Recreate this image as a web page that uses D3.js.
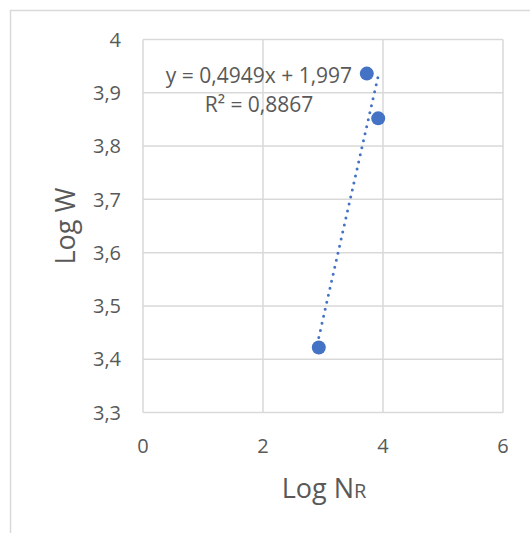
<!DOCTYPE html>
<html>
<head>
<meta charset="utf-8">
<script src="https://cdn.jsdelivr.net/npm/d3@7"></script>
<style>
  body { margin: 0; background: #fff; }
  text { font-family: "Open Sans", sans-serif; fill: #595959; }
  .grid line { stroke: #d9d9d9; stroke-width: 1.5; }
</style>
</head>
<body>
<div id="chart"></div>
<script>
const width = 530
const height = 533

// data
const logNR = [3.73, 3.92, 2.93]
const logW = [3.936, 3.852, 3.422]
const xTicks = [0, 2, 4, 6]
const yTicks = [3.3, 3.4, 3.5, 3.6, 3.7, 3.8, 3.9, 4]
const trendLabel = ['y = 0,4949x + 1,997', 'R² = 0,8867']

const points = logNR.map((x, i) => ({ x: x, y: logW[i] }))

const svg = d3.select('#chart')
  .append('svg')
  .attr('width', width)
  .attr('height', height)

// chart frame
svg.append('rect')
  .attr('x', 10.5)
  .attr('y', 10.5)
  .attr('width', width)
  .attr('height', height)
  .attr('fill', 'none')
  .attr('stroke', '#d9d9d9')
  .attr('stroke-width', 1.5)

const x = d3.scaleLinear().domain([0, 6]).range([143, 503])
const y = d3.scaleLinear().domain([3.3, 4]).range([412.5, 39.5])

const fmt = d => String(d).replace('.', ',')

// gridlines
const grid = svg.append('g').attr('class', 'grid')
grid.selectAll('.hline')
  .data(yTicks)
  .enter()
    .append('line')
    .attr('x1', x(0))
    .attr('x2', x(6))
    .attr('y1', d => y(d))
    .attr('y2', d => y(d))
grid.selectAll('.vline')
  .data(xTicks)
  .enter()
    .append('line')
    .attr('x1', d => x(d))
    .attr('x2', d => x(d))
    .attr('y1', y(3.3))
    .attr('y2', y(4))

// tick labels
svg.selectAll('.ytick')
  .data(yTicks)
  .enter()
    .append('text')
    .attr('class', 'ytick')
    .attr('x', 121)
    .attr('y', d => y(d))
    .attr('dy', '0.36em')
    .attr('text-anchor', 'end')
    .style('font-size', '20px')
    .text(fmt)
svg.selectAll('.xtick')
  .data(xTicks)
  .enter()
    .append('text')
    .attr('class', 'xtick')
    .attr('x', d => x(d))
    .attr('y', 453)
    .attr('text-anchor', 'middle')
    .style('font-size', '20px')
    .text(fmt)

// axis titles
const xTitle = svg.append('text')
  .attr('x', 324)
  .attr('y', 498)
  .attr('text-anchor', 'middle')
  .style('font-size', '27px')
xTitle.append('tspan').text('Log N')
xTitle.append('tspan').style('font-size', '20px').text('R')

svg.append('text')
  .attr('transform', 'translate(75,226) rotate(-90)')
  .attr('text-anchor', 'middle')
  .style('font-size', '27px')
  .text('Log W')

// linear trendline (least squares over the points)
const mx = d3.mean(points, d => d.x)
const my = d3.mean(points, d => d.y)
const slope = d3.sum(points, d => (d.x - mx) * (d.y - my)) / d3.sum(points, d => (d.x - mx) ** 2)
const icpt = my - slope * mx
const xr = d3.extent(logNR)
svg.append('line')
  .attr('x1', x(xr[0]))
  .attr('y1', y(slope * xr[0] + icpt))
  .attr('x2', x(xr[1]))
  .attr('y2', y(slope * xr[1] + icpt))
  .attr('stroke', '#4472c4')
  .attr('stroke-width', 3)
  .attr('stroke-linecap', 'round')
  .attr('stroke-dasharray', '0,7.2')

// points
svg.selectAll('.pt')
  .data(points)
  .enter()
    .append('circle')
    .attr('class', 'pt')
    .attr('cx', d => x(d.x))
    .attr('cy', d => y(d.y))
    .attr('r', 7)
    .attr('fill', '#4472c4')

// trendline label
svg.selectAll('.tl')
  .data(trendLabel)
  .enter()
    .append('text')
    .attr('class', 'tl')
    .attr('x', 259)
    .attr('y', (d, i) => 83 + i * 29)
    .attr('text-anchor', 'middle')
    .style('font-size', '21px')
    .text(d => d)
</script>
</body>
</html>
